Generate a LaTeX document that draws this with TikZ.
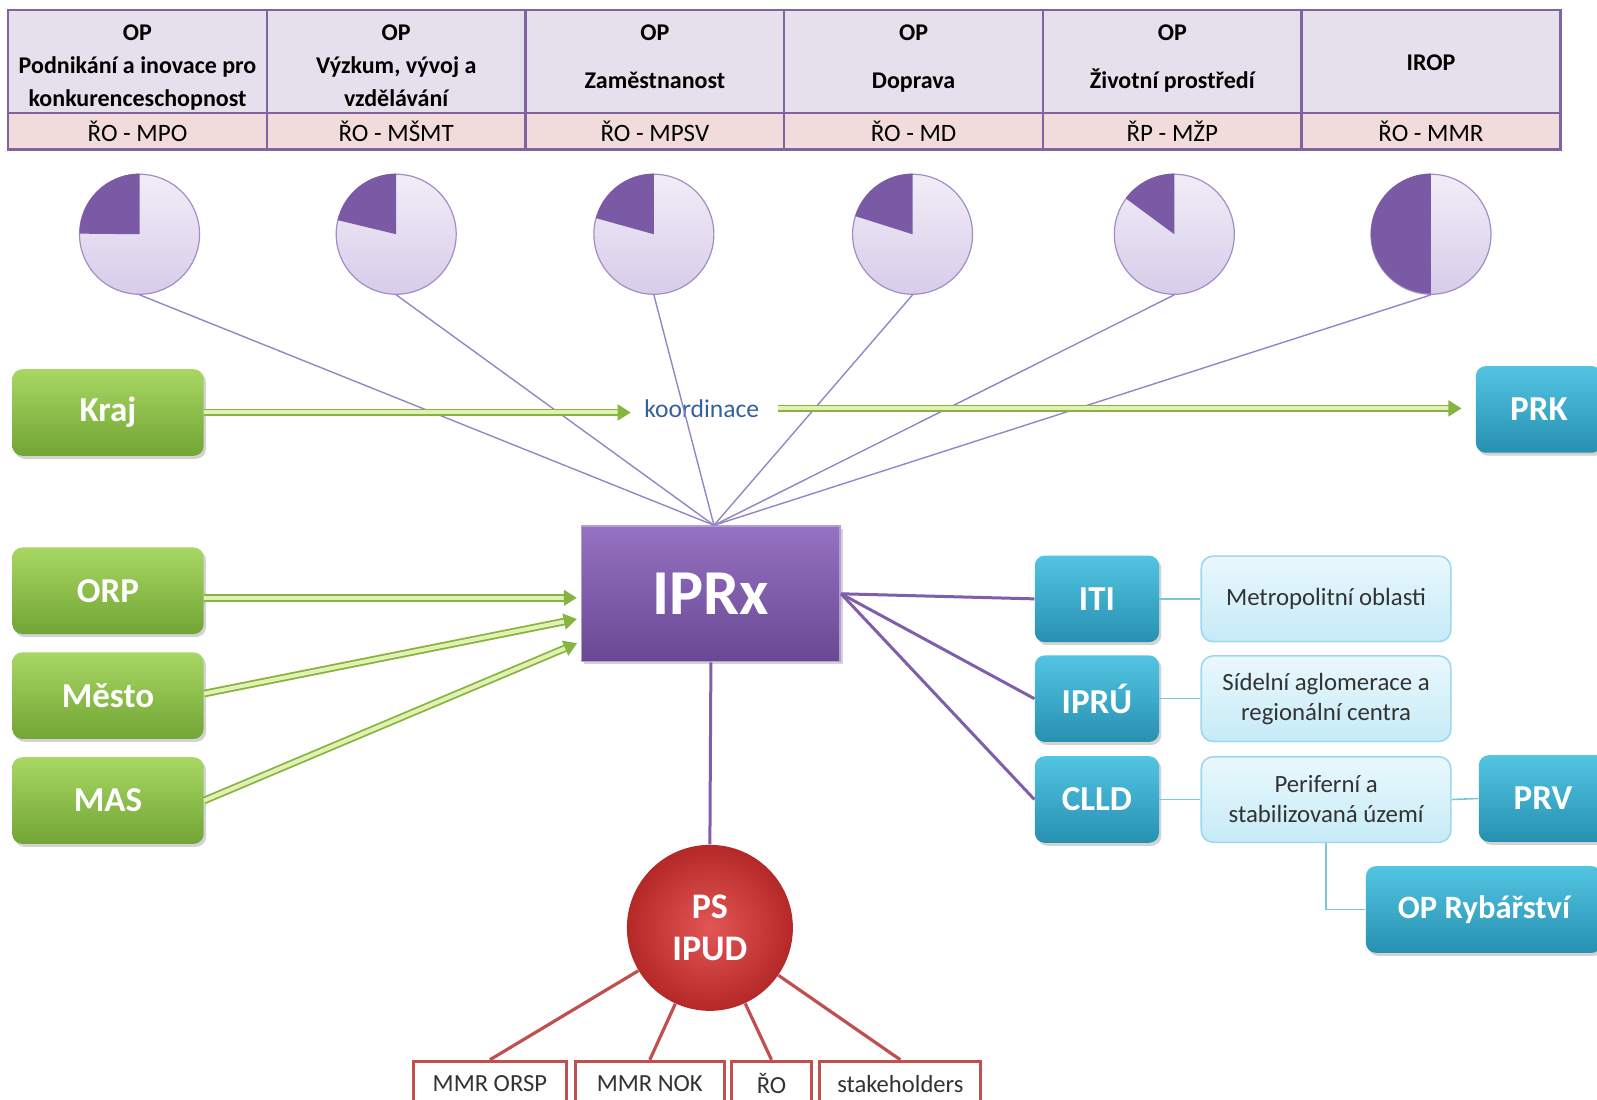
\documentclass[tikz,border=0pt]{standalone}
\usepackage{fontspec}
\setmainfont{Carlito}
\usetikzlibrary{calc,shadows,arrows.meta}
\definecolor{tabline}{HTML}{8064A2}
\definecolor{tabhead}{HTML}{E6E0EC}
\definecolor{tabsub}{HTML}{F2DCDB}
\definecolor{pietop}{HTML}{F1EDF7}
\definecolor{piebot}{HTML}{D8CCEA}
\definecolor{pieedge}{HTML}{9F8FC4}
\definecolor{piedark}{HTML}{7A5AA4}
\definecolor{pieline}{HTML}{9386C5}
\definecolor{gtop}{HTML}{A8D763}
\definecolor{gbot}{HTML}{72A535}
\definecolor{gdark}{HTML}{86B440}
\definecolor{glight}{HTML}{E2F0B4}
\definecolor{ttop}{HTML}{52C5E2}
\definecolor{tbot}{HTML}{2790B0}
\definecolor{ltop}{HTML}{EAF8FD}
\definecolor{lbot}{HTML}{C6EBF7}
\definecolor{ledge}{HTML}{9ED8EC}
\definecolor{ptop}{HTML}{9672C2}
\definecolor{pbot}{HTML}{684893}
\definecolor{link}{HTML}{7F5FAA}
\definecolor{psin}{HTML}{E25656}
\definecolor{psout}{HTML}{B42828}
\definecolor{redline}{HTML}{C0504D}
\definecolor{koord}{HTML}{35609E}
\begin{document}
\begin{tikzpicture}[x=0.50925pt,y=-0.50925pt,
    every node/.style={inner sep=0pt},
    opcell/.style={draw=tabline, line width=1.2pt, fill=tabhead,
      minimum width=129.35pt, minimum height=51.4pt},
    optext/.style={anchor=north, align=center,
      font=\fontsize{12}{16.5}\selectfont\bfseries},
    rocell/.style={draw=tabline, line width=1.2pt, fill=tabsub,
      minimum width=129.35pt, minimum height=18.3pt,
      font=\fontsize{12.5}{14}\selectfont},
    pie/.style={circle, draw=pieedge, line width=0.6pt, top color=pietop,
      bottom color=piebot, minimum size=60pt},
    gbox/.style={rounded corners=5pt, top color=gtop, bottom color=gbot,
      minimum width=95.7pt, minimum height=43.3pt, text=white,
      font=\fontsize{17.5}{21}\selectfont\bfseries,
      drop shadow={opacity=0.35, shadow xshift=1.2pt, shadow yshift=-1.5pt}},
    tbox/.style={rounded corners=5pt, top color=ttop, bottom color=tbot,
      minimum width=62.1pt, minimum height=43.3pt, text=white,
      font=\fontsize{17.5}{21}\selectfont\bfseries,
      drop shadow={opacity=0.35, shadow xshift=1.2pt, shadow yshift=-1.5pt}},
    lbox/.style={rounded corners=6pt, draw=ledge, line width=0.8pt,
      top color=ltop, bottom color=lbot, align=center,
      minimum width=124.8pt, minimum height=42.8pt, text=black!80,
      font=\fontsize{12.4}{15}\selectfont},
    rbox/.style={draw=redline, line width=1.5pt, fill=white,
      minimum height=22.4pt, text=black!80, font=\fontsize{12.3}{14}\selectfont},
    garrow/.style={draw=gdark, double=glight, double distance=2pt,
      line width=0.9pt, -{Triangle[length=6.5pt,width=8pt]}},
    tline/.style={draw=ledge!80!teal, line width=0.8pt},
    pline/.style={draw=link, line width=1.5pt},
    rline/.style={draw=redline, line width=1.6pt}]
  \useasboundingbox (0,0) rectangle (1568,1080);

  % table of programmes
  \foreach \i/\head/\ro/\dy in {
      1/{OP\\Podnikání a inovace pro\\konkurenceschopnost}/{ŘO - MPO}/15,
      2/{OP\\Výzkum, vývoj a\\vzdělávání}/{ŘO - MŠMT}/15,
      3/{OP\\[7.4pt]Zaměstnanost}/{ŘO - MPSV}/15,
      4/{OP\\[7.4pt]Doprava}/{ŘO - MD}/15,
      5/{OP\\[7.4pt]Životní prostředí}/{ŘP - MŽP}/15,
      6/{IROP}/{ŘO - MMR}/45} {
    \node[opcell] (op\i) at ({8+254*(\i-0.5)},60.5) {};
    \node[optext] (opname\i) at ($(op\i.north)+(0,\dy)$) {\head};
    \node[rocell] (ro\i) at ({8+254*(\i-0.5)},129) {\ro};
  }

  % main nodes
  \node[gbox] (kraj) at (106,405) {Kraj};
  \node[gbox] (orp) at (106,580) {ORP};
  \node[gbox] (mesto) at (106,683) {Město};
  \node[gbox] (mas) at (106,786) {MAS};
  \node[tbox, minimum width=63.1pt] (prk) at (1511,402) {PRK};
  \node[text=koord, inner xsep=6.6pt, font=\fontsize{12.8}{15}\selectfont] (koord) at (689,401) {koordinace};
  \node[draw=ptop!70!white, line width=0.8pt, top color=ptop, bottom color=pbot,
    minimum width=129.35pt, minimum height=67.7pt, text=white,
    font=\fontsize{32}{36}\selectfont\bfseries,
    drop shadow={opacity=0.35, shadow xshift=1.2pt, shadow yshift=-1.5pt}] (iprx) at (698,583) {IPRx};

  \node[tbox] (iti) at (1077,588) {ITI};
  \node[tbox] (ipru) at (1077,686) {IPRÚ};
  \node[tbox] (clld) at (1077,785) {CLLD};
  \node[lbox] (metro) at (1302,588) {Metropolitní oblasti};
  \node[lbox] (sidel) at (1302,686) {Sídelní aglomerace a\\regionální centra};
  \node[lbox] (perif) at (1302,785) {Periferní a\\stabilizovaná území};
  \node[tbox, minimum width=64.2pt] (prv) at (1515,784) {PRV};
  \node[tbox, minimum width=118.1pt, font=\fontsize{16.3}{20}\selectfont\bfseries] (opr) at (1457,893) {OP Rybářství};

  \node[circle, inner color=psin, outer color=psout, minimum size=83pt,
    text=white, align=center, font=\fontsize{18}{21.4}\selectfont\bfseries] (ps) at (697,911) {PS\\IPUD};
  \node[rbox, minimum width=76.4pt] (orsp) at (481,1064) {MMR ORSP};
  \node[rbox, minimum width=74.4pt] (nok) at (638,1064) {MMR NOK};
  \node[rbox, minimum width=40.2pt] (rozp) at (757.5,1064) {ŘO};
  \node[rbox, minimum width=80.5pt] (stake) at (884,1064) {stakeholders};

  % pies and their links
  \foreach \i/\x/\a in {1/137/180, 2/389/167, 3/642/165, 4/896/163, 5/1153/144, 6/1405/270} {
    \node[pie] (pie\i) at (\x,230) {};
    \fill[piedark] (pie\i.center) -- (pie\i.north) arc[start angle=90, end angle=\a, radius=30pt] -- cycle;
    \draw[pieline, line width=0.7pt] (pie\i.south) -- ($(iprx.north)+(3,0)$);
  }

  % arrows
  \draw[garrow] (kraj.east) -- (kraj.east -| koord.west);
  \draw[garrow, shorten <=2.5pt, shorten >=7pt] (koord.east) -- (koord.east -| prk.west);
  \draw[garrow, shorten >=2pt] ($(orp.east)+(0,7)$) -- ($(iprx.west)+(0,4)$);
  \draw[garrow, shorten >=2pt] ($(mesto.east)+(0,-2)$) -- ($(iprx.west)+(0,24)$);
  \draw[garrow, shorten >=2pt] (mas.east) -- ($(iprx.west)+(0,47)$);

  % links
  \draw[pline] (iprx.east) -- (iti.west);
  \draw[pline] (iprx.east) -- (ipru.west);
  \draw[pline] (iprx.east) -- (clld.west);
  \draw[pline] (iprx.south) -- (ps.north);
  \draw[tline] (iti.east) -- (metro.west);
  \draw[tline] (ipru.east) -- (sidel.west);
  \draw[tline] (clld.east) -- (perif.west);
  \draw[tline] (perif.east) -- (prv.west);
  \draw[tline] (perif.south) |- (opr.west);
  \foreach \b in {orsp,nok,rozp,stake}
    \draw[rline] (ps) -- (\b.north);
\end{tikzpicture}
\end{document}
